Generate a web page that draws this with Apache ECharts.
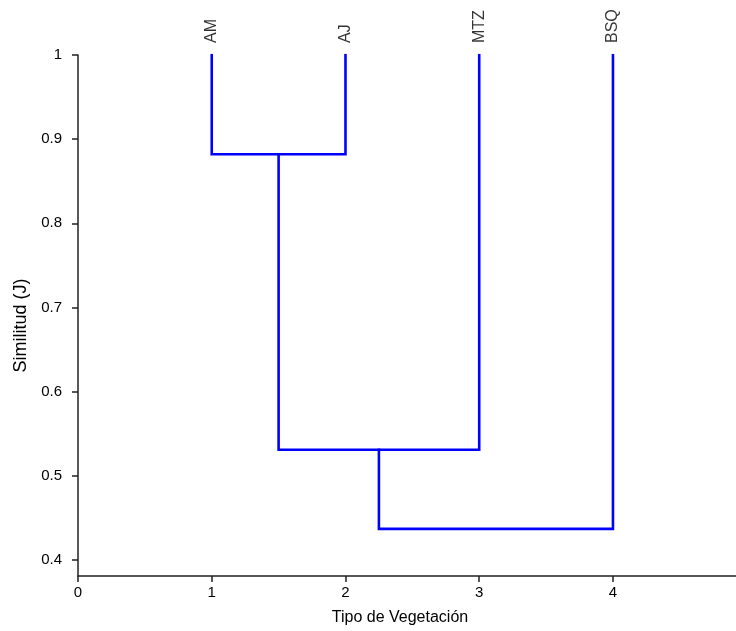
<!DOCTYPE html>
<html>
<head>
<meta charset="utf-8">
<script src="https://cdn.jsdelivr.net/npm/echarts@6/dist/echarts.min.js"></script>
<style>html,body{margin:0;padding:0;background:#fff}#c{width:736px;height:631px}</style>
</head>
<body>
<div id="c"></div>
<script>
// Data
var leafNames = ['AM', 'AJ', 'MTZ', 'BSQ'];
var leafX = [1, 2, 3, 4];
var leafHeight = 1.0;
// merges: [left node, right node, similarity]; nodes 0-3 are leaves, 4+ are clusters
var mergeLeft = [0, 4, 5];
var mergeRight = [1, 2, 3];
var mergeHeight = [0.882, 0.531, 0.437];
var yTicks = [0.4, 0.5, 0.6, 0.7, 0.8, 0.9, 1];
var xTicks = [0, 1, 2, 3, 4];

var nodeX = leafX.slice();
var nodeH = leafX.map(function () { return leafHeight; });
var series = [];
for (var i = 0; i < mergeHeight.length; i++) {
  var l = mergeLeft[i], r = mergeRight[i], h = mergeHeight[i];
  series.push({
    type: 'line',
    silent: true,
    symbol: 'none',
    lineStyle: { color: '#0000ff', width: 2.6, cap: 'square', join: 'miter' },
    data: [[nodeX[l], nodeH[l]], [nodeX[l], h], [nodeX[r], h], [nodeX[r], nodeH[r]]]
  });
  nodeX.push((nodeX[l] + nodeX[r]) / 2);
  nodeH.push(h);
}
series.push({
  type: 'scatter',
  symbolSize: 0,
  silent: true,
  data: leafNames.map(function (n, i) { return { value: [leafX[i], leafHeight], name: n }; }),
  label: {
    show: true,
    position: 'top',
    distance: 10,
    rotate: 90,
    align: 'left',
    verticalAlign: 'middle',
    offset: [2, 0],
    formatter: '{b}',
    fontFamily: 'Liberation Sans',
    fontSize: 16,
    color: '#000'
  }
});

var axisCommon = {
  axisLine: { show: true, lineStyle: { color: '#222', width: 1.5 } },
  axisTick: { show: true, inside: false, length: 6, lineStyle: { color: '#222', width: 1.5 } },
  splitLine: { show: false }
};

var chart = echarts.init(document.getElementById('c'), null, { renderer: 'canvas' });
chart.setOption({
  animation: false,
  backgroundColor: '#fff',
  grid: { left: 78, right: 0, top: 55, bottom: 54, containLabel: false },
  xAxis: Object.assign({}, axisCommon, {
    type: 'value',
    min: 0,
    max: 4.92,
    name: 'Tipo de Vegetación',
    nameLocation: 'middle',
    nameGap: 34,
    nameTextStyle: { fontFamily: 'Liberation Sans', fontSize: 16, color: '#000', padding: [0, 14, 0, 0] },
    axisTick: Object.assign({}, axisCommon.axisTick, { customValues: xTicks }),
    axisLabel: { customValues: xTicks, margin: 9, fontFamily: 'Liberation Sans', fontSize: 15, color: '#000' }
  }),
  yAxis: Object.assign({}, axisCommon, {
    type: 'value',
    min: 0.381,
    max: 1.0,
    name: 'Similitud (J)',
    nameLocation: 'middle',
    nameGap: 45,
    nameRotate: 90,
    nameTextStyle: { fontFamily: 'Liberation Sans', fontSize: 18, color: '#000', padding: [0, 20, 0, 0] },
    axisTick: Object.assign({}, axisCommon.axisTick, { customValues: yTicks }),
    axisLabel: { customValues: yTicks, margin: 16, fontFamily: 'Liberation Sans', fontSize: 15, color: '#000' }
  }),
  series: series
});
</script>
</body>
</html>
